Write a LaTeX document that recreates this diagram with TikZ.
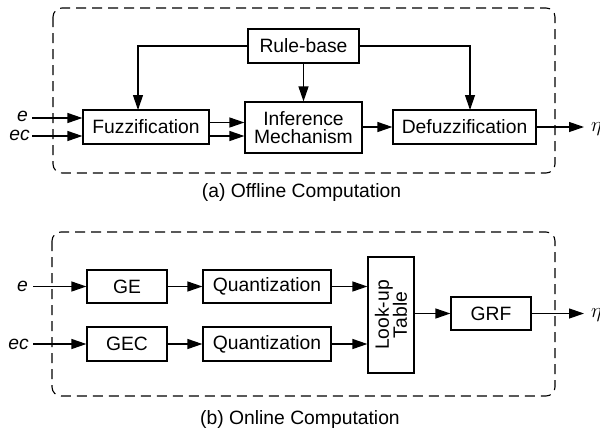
\documentclass[tikz,border=0pt]{standalone}
\usepackage{fontspec}
\setmainfont{Liberation Sans}
\usetikzlibrary{arrows.meta}
\begin{document}
\begin{tikzpicture}[x=1pt,y=-1pt,
  every node/.style={font=\fontsize{19.3}{21}\selectfont},
  blk/.style={draw,line width=1.2pt,inner sep=0pt,align=center},
  conn/.style={line width=1.2pt,-{Triangle[length=15pt,width=10pt]}},
  frame/.style={line width=1.1pt,dash pattern=on 10pt off 6pt,rounded corners=9pt},
  inlab/.style={font=\fontsize{19.3}{21}\selectfont\itshape,anchor=east,inner sep=0pt},
  outlab/.style={font=\fontsize{21}{22}\selectfont,anchor=west,inner sep=0pt},
  captxt/.style={font=\fontsize{19.3}{21}\selectfont}]
\useasboundingbox (0,0) rectangle (600,432);
% ---------- (a) ----------
\draw[frame] (53,8) rectangle (555,173);
\node[blk,minimum width=111pt,minimum height=34pt] (rb) at (303.5,46) {Rule-base};
\node[blk,minimum width=126pt,minimum height=34pt] (fz) at (146,127) {Fuzzification};
\node[blk,minimum width=117pt,minimum height=51pt] (im) at (303.5,127.5) {Inference\\[-3pt]Mechanism};
\node[blk,minimum width=143pt,minimum height=34pt] (df) at (464.5,127) {Defuzzification};
\coordinate (ae) at (32,118);
\coordinate (aec) at (32,136);
\node[inlab] (le) at (28,116) {e};
\node[inlab] (lec) at (30,135) {ec};
\draw[conn] (ae) -- (ae -| fz.west);
\draw[conn] (aec) -- (aec -| fz.west);
\coordinate (f1) at (209,122.5);
\coordinate (f2) at (209,136);
\draw[conn] (f1) -- (f1 -| im.west);
\draw[conn] (f2) -- (f2 -| im.west);
\draw[conn] (im.east |- df.west) -- (df.west);
\draw[conn] (rb.south) -- (im.north);
\draw[conn] (rb.west) -| (138,110);
\draw[conn] (rb.east) -| (470,110);
\coordinate (aout) at (584,127);
\draw[conn] (df.east) -- (aout);
\node[outlab] (eta1) at (591,129) {$\eta$};
\node[captxt] (capa) at (301.5,193) {(a) Offline Computation};
% ---------- (b) ----------
\draw[frame] (52,232) rectangle (555,396);
\node[blk,minimum width=80pt,minimum height=33pt] (ge) at (127,286.5) {GE};
\node[blk,minimum width=80pt,minimum height=34pt] (gec) at (127,344) {GEC};
\node[blk,minimum width=128pt,minimum height=33pt] (q1) at (267,286.5) {Quantization};
\node[blk,minimum width=128pt,minimum height=34pt] (q2) at (267,344) {Quantization};
\node[blk,minimum width=116pt,minimum height=46pt,rotate=90] (lut) at (391,315) {Look-up\\[-3pt]Table};
\node[blk,minimum width=80pt,minimum height=33pt] (grf) at (491,313.5) {GRF};
\coordinate (be) at (33,286.5);
\coordinate (bec) at (33,344);
\node[inlab] (le2) at (28,286) {e};
\node[inlab] (lec2) at (29,344) {ec};
\draw[conn] (be) -- (ge.west);
\draw[conn] (bec) -- (gec.west);
\draw[conn] (ge.east) -- (q1.west);
\draw[conn] (gec.east) -- (q2.west);
\draw[conn] (q1.east) -- (q1.east -| lut.north);
\draw[conn] (q2.east) -- (q2.east -| lut.north);
\draw[conn] (lut.south |- grf.west) -- (grf.west);
\coordinate (bout) at (584,313.5);
\draw[conn] (grf.east) -- (bout);
\node[outlab] (eta2) at (591,315.5) {$\eta$};
\node[captxt] (capb) at (300,420) {(b) Online Computation};
\end{tikzpicture}
\end{document}
